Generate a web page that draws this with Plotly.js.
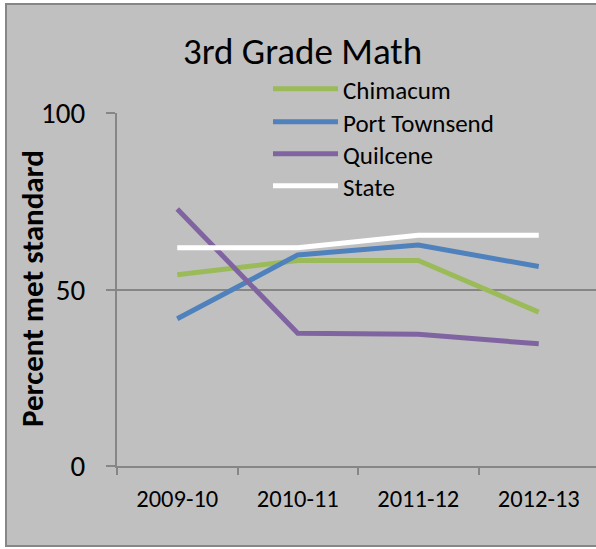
<!DOCTYPE html>
<html>
<head>
<meta charset="utf-8">
<script src="https://cdn.plot.ly/plotly-3.0.1.min.js"></script>
<style>html,body{margin:0;padding:0;overflow:hidden;background:#fff;}</style>
</head>
<body>
<div id="chart" style="width:600px;height:549px;"></div>
<script>
const years = ["2009-10", "2010-11", "2011-12", "2012-13"];
const chimacum = [54.2, 58.2, 58.2, 43.6];
const portTownsend = [41.7, 59.8, 62.6, 56.5];
const quilcene = [72.8, 37.6, 37.3, 34.6];
const state = [61.8, 61.8, 65.4, 65.4];
const seriesNames = ["Chimacum", "Port Townsend", "Quilcene", "State"];
const seriesColors = ["#9BBB59", "#4F81BD", "#8064A2", "#FFFFFF"];
const seriesValues = [chimacum, portTownsend, quilcene, state];

const FONT = "Carlito, Lato, sans-serif";

const W = 600, H = 549;
const L = 117, R = 1, T = 113, B = 83;
const pw = W - L - R, ph = H - T - B;
function px2x(px) { return (px - L) / pw; }
function px2y(py) { return (H - B - py) / ph; }

const legendKeys = ["legend", "legend2", "legend3", "legend4"];
const legendRowsPx = [89, 122, 154, 186];

const traces = seriesValues.map((vals, i) => ({
  type: "scatter",
  mode: "lines",
  x: years,
  y: vals,
  name: seriesNames[i],
  legend: legendKeys[i],
  line: {color: seriesColors[i], width: 5},
  hoverinfo: "skip"
}));

const layout = {
  width: W, height: H,
  margin: {l: L, r: R, t: T, b: B, pad: 0},
  paper_bgcolor: "#FFFFFF",
  plot_bgcolor: "rgba(0,0,0,0)",
  font: {family: FONT, color: "#000000"},
  showlegend: true,
  title: {
    text: "3rd Grade Math",
    font: {family: FONT, size: 37, color: "#000000"},
    x: 302.5 / W, xanchor: "center",
    y: 1 - 51 / H, yanchor: "middle"
  },
  xaxis: {
    type: "category",
    range: [-0.5, 3.5],
    tickson: "boundaries",
    ticks: "outside", ticklen: 7, tickwidth: 2, tickcolor: "#868686",
    showline: true, linecolor: "#868686", linewidth: 2,
    showgrid: false, zeroline: false,
    tickfont: {family: FONT, size: 24.5, color: "#000000"},
    ticklabelstandoff: 10,
    fixedrange: true
  },
  yaxis: {
    range: [0, 100],
    tickvals: [0, 50, 100],
    ticktext: ["0", "50", "100"],
    ticks: "outside", ticklen: 9, tickwidth: 2, tickcolor: "#868686",
    showline: true, linecolor: "#868686", linewidth: 2,
    showgrid: true, gridcolor: "#868686", gridwidth: 2,
    zeroline: false,
    tickfont: {family: FONT, size: 29, color: "#000000"},
    ticklabelstandoff: 15,
    fixedrange: true
  },
  annotations: [{
    text: "Percent met standard",
    xref: "paper", yref: "paper",
    x: px2x(32), y: px2y(289),
    xanchor: "center", yanchor: "middle",
    textangle: -90, showarrow: false,
    font: {family: FONT, size: 31, color: "#000000", weight: "bold"}
  }],
  shapes: [{
    type: "rect", xref: "paper", yref: "paper", layer: "below",
    x0: px2x(6), x1: px2x(W + 5), y0: px2y(546), y1: px2y(4),
    fillcolor: "#C0C0C0",
    line: {color: "#868686", width: 2}
  }]
};

legendKeys.forEach((k, i) => {
  layout[k] = {
    x: px2x(268), xanchor: "left",
    y: px2y(legendRowsPx[i]), yanchor: "middle",
    bgcolor: "rgba(0,0,0,0)",
    font: {family: FONT, size: 25, color: "#000000"},
    itemwidth: 65
  };
});

Plotly.newPlot("chart", traces, layout, {displayModeBar: false, staticPlot: true});
</script>
</body>
</html>
